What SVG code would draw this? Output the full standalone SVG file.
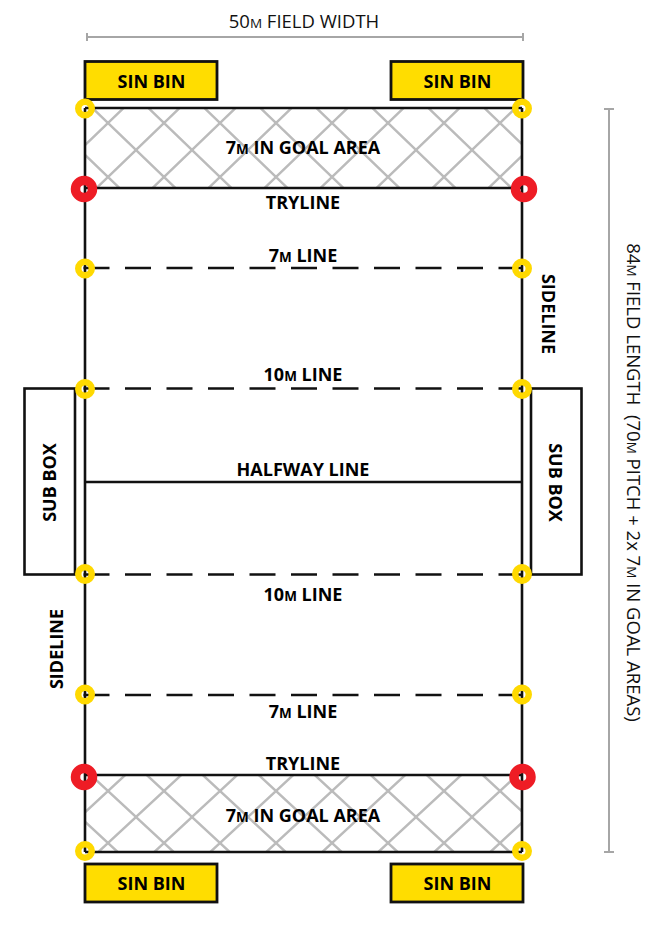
<svg xmlns="http://www.w3.org/2000/svg" width="659" height="930" viewBox="0 0 659 930">
<style>
text{font-family:"Open Sans","Noto Sans","Liberation Sans",sans-serif;fill:#000;text-anchor:middle}
.b{font-weight:700;font-size:18px}
.d{font-size:18.500px;fill:#111}
.m{font-size:13.500px}
.line{stroke:#111;stroke-width:2.600;fill:none}
.dash{stroke:#111;stroke-width:2.600;fill:none;stroke-dasharray:26 15.500}
.box{fill:#fff;stroke:#111;stroke-width:2.600}
.bin{fill:#ffdd00;stroke:#111;stroke-width:2.800}
.dim{stroke:#a6a6a6;stroke-width:2;fill:none}
.y{fill:none;stroke:#ffd900;stroke-width:6.500}
.r{fill:none;stroke:#ee1c25;stroke-width:9.500}
.h{stroke:#bbb;stroke-width:2.400;fill:none}
</style>
<defs>
<pattern id="hatchTop" patternUnits="userSpaceOnUse" x="80" y="96" width="56" height="54"><path class="h" d="M0 0L56 54M56 0L0 54"/></pattern>
<pattern id="hatchBottom" patternUnits="userSpaceOnUse" x="80" y="765" width="56" height="52"><path class="h" d="M0 0L56 52M56 0L0 52"/></pattern>
</defs>
<g id="in-goal-top"><rect x="85" y="108" width="437" height="80" fill="url(#hatchTop)"/></g>
<g id="in-goal-bottom"><rect x="85" y="775" width="437" height="77" fill="url(#hatchBottom)"/></g>
<g id="connectors">
<path class="dim" d="M87 37H523M523 33V41M87 33V41"/>
<path class="dim" d="M609 109V852M604 109H614M604 852H614"/>
<path class="line" d="M85 108V852M522 108V852"/>
<path class="line" d="M85 108H522M85 188H522M85 482H522M85 775H522M85 852H522"/>
<path class="dash" d="M83.500 268H522M83.500 388.500H522M83.500 574.500H522M83.500 695H522"/>
</g>
<g id="sin-bin-tl"><rect class="bin" x="85" y="61.500" width="132" height="38"/><text class="b" x="151.500" y="88">SIN BIN</text></g>
<g id="sin-bin-tr"><rect class="bin" x="391" y="61.500" width="132" height="38"/><text class="b" x="457.500" y="88">SIN BIN</text></g>
<g id="sin-bin-bl"><rect class="bin" x="85" y="864" width="132" height="38"/><text class="b" x="151.500" y="890">SIN BIN</text></g>
<g id="sin-bin-br"><rect class="bin" x="391" y="864" width="132" height="38"/><text class="b" x="457.500" y="890">SIN BIN</text></g>
<g id="sub-box-l"><rect class="box" x="24.500" y="388.500" width="50.500" height="186"/><text class="b" transform="translate(56 482.500) rotate(-90)">SUB BOX</text></g>
<g id="sub-box-r"><rect class="box" x="531" y="388.500" width="50.500" height="186"/><text class="b" transform="translate(548.500 482.500) rotate(90)">SUB BOX</text></g>
<g id="labels">
<text class="d" x="304" y="28">50<tspan class="m">M</tspan> FIELD WIDTH</text>
<text class="d" transform="translate(626.500 482.500) rotate(90)" xml:space="preserve">84<tspan class="m">M</tspan> FIELD LENGTH  (70<tspan class="m">M</tspan> PITCH + 2x 7<tspan class="m">M</tspan> IN GOAL AREAS)</text>
<text class="b" x="303" y="154">7<tspan class="m">M</tspan> IN GOAL AREA</text>
<text class="b" x="303" y="822">7<tspan class="m">M</tspan> IN GOAL AREA</text>
<text class="b" x="303" y="209">TRYLINE</text>
<text class="b" x="303" y="770">TRYLINE</text>
<text class="b" x="303" y="262">7<tspan class="m">M</tspan> LINE</text>
<text class="b" x="303" y="718">7<tspan class="m">M</tspan> LINE</text>
<text class="b" x="303" y="381">10<tspan class="m">M</tspan> LINE</text>
<text class="b" x="303" y="601">10<tspan class="m">M</tspan> LINE</text>
<text class="b" x="303" y="476">HALFWAY LINE</text>
<text class="b" transform="translate(541.500 314) rotate(90)">SIDELINE</text>
<text class="b" transform="translate(62.500 649) rotate(-90)">SIDELINE</text>
</g>
<g id="marker-y1"><circle class="y" cx="85" cy="108.500" r="6.750"/></g>
<g id="marker-y2"><circle class="y" cx="522" cy="108.500" r="6.750"/></g>
<g id="marker-y3"><circle class="y" cx="85" cy="268.500" r="6.750"/></g>
<g id="marker-y4"><circle class="y" cx="522" cy="268.500" r="6.750"/></g>
<g id="marker-y5"><circle class="y" cx="85" cy="389" r="6.750"/></g>
<g id="marker-y6"><circle class="y" cx="522" cy="389" r="6.750"/></g>
<g id="marker-y7"><circle class="y" cx="85" cy="574" r="6.750"/></g>
<g id="marker-y8"><circle class="y" cx="522" cy="574" r="6.750"/></g>
<g id="marker-y9"><circle class="y" cx="85" cy="694.500" r="6.750"/></g>
<g id="marker-y10"><circle class="y" cx="522" cy="694.500" r="6.750"/></g>
<g id="marker-y11"><circle class="y" cx="85" cy="851" r="6.750"/></g>
<g id="marker-y12"><circle class="y" cx="522" cy="851" r="6.750"/></g>
<g id="marker-r1"><circle class="r" cx="84" cy="189" r="8.500"/></g>
<g id="marker-r2"><circle class="r" cx="524" cy="189" r="8.500"/></g>
<g id="marker-r3"><circle class="r" cx="84" cy="777" r="8.500"/></g>
<g id="marker-r4"><circle class="r" cx="522.500" cy="777" r="8.500"/></g>
</svg>
